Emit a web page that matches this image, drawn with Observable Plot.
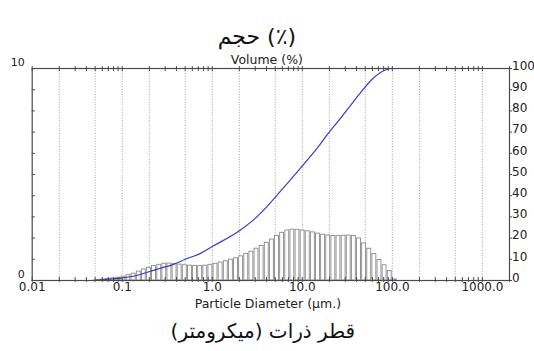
<!DOCTYPE html>
<html>
<head>
<meta charset="utf-8">
<script src="https://cdn.jsdelivr.net/npm/d3@7"></script>
<script src="https://cdn.jsdelivr.net/npm/@observablehq/plot@0.6"></script>
<style>
  html, body { margin: 0; padding: 0; background: #fff; }
</style>
</head>
<body>
<div id="chart"></div>
<script>
// ---- Texts ----
const titleFa = "حجم (٪)";
const yTitle = "Volume (%)";
const xTitle = "Particle Diameter (µm.)";
const xTitleFa = "قطر ذرات (میکرومتر)";

// ---- Axis ticks / labels ----
const xTickValues = [0.01, 0.1, 1, 10, 100, 1000];
const xTickLabels = ["0.01", "0.1", "1.0", "10.0", "100.0", "1000.0"];
const gridValues = [0.02, 0.05, 0.1, 0.2, 0.5, 1, 2, 5, 10, 20, 50, 100, 200, 500, 1000];
const leftTickValues = [0, 1, 2, 3, 4, 5, 6, 7, 8, 9, 10];
const leftLabelValues = [0, 10];
const rightLabelValues = [0, 10, 20, 30, 40, 50, 60, 70, 80, 90, 100];

// ---- Histogram bins (µm edges) and volume in each bin (%) ----
const binEdges = [0.0500, 0.0570, 0.0650, 0.0741, 0.0845, 0.0963, 0.110, 0.125, 0.143, 0.163,
  0.185, 0.211, 0.241, 0.275, 0.313, 0.357, 0.407, 0.464, 0.529, 0.603,
  0.687, 0.783, 0.893, 1.018, 1.160, 1.323, 1.508, 1.719, 1.959, 2.234,
  2.546, 2.903, 3.310, 3.773, 4.301, 4.903, 5.590, 6.372, 7.264, 8.281,
  9.440, 10.76, 12.27, 13.99, 15.94, 18.18, 20.72, 23.62, 26.93, 30.70,
  35.00, 39.89, 45.48, 51.85, 59.10, 67.38, 76.81, 87.56, 99.82, 113.8];
const binVolume = [0.02, 0.04, 0.07, 0.10, 0.13, 0.18, 0.25, 0.32, 0.42, 0.52,
  0.60, 0.68, 0.74, 0.79, 0.80, 0.78, 0.75, 0.72, 0.70, 0.69,
  0.68, 0.70, 0.74, 0.79, 0.85, 0.91, 0.98, 1.05, 1.14, 1.25,
  1.36, 1.50, 1.63, 1.78, 1.93, 2.10, 2.25, 2.36, 2.40, 2.39,
  2.36, 2.32, 2.27, 2.21, 2.16, 2.12, 2.10, 2.10, 2.11, 2.12,
  2.10, 1.98, 1.75, 1.50, 1.25, 0.97, 0.72, 0.45, 0.05];

// ---- Cumulative volume curve (µm, %) ----
const cumSize = [0.046, 0.057, 0.0955, 0.133, 0.19, 0.266, 0.371, 0.5, 0.74, 1.0,
  2.0, 3.0, 4.0, 5.7, 7.38, 9.53, 12.3, 15.9, 19.5, 26.5, 34.2, 44.2, 61.6, 83.6, 100, 2000];
const cumPercent = [0, 0.3, 1.1, 2.0, 3.9, 5.8, 7.6, 10.0, 12.8, 16.0,
  23.5, 29.3, 34.6, 42.0, 47.5, 53.0, 58.5, 64.5, 69.5, 76.5, 82.5, 88.5, 95.5, 99.3, 100, 100];

// ---- Build tables for the library ----
const bins = binVolume.map((v, i) => ({x1: binEdges[i], x2: binEdges[i + 1], v}));
const cum = cumSize.map((s, i) => ({s, p: cumPercent[i]}));
const minorTicks = [];
for (const dec of [0.01, 0.1, 1, 10, 100, 1000]) {
  for (let m = 1; m <= 9; m++) {
    const t = dec * m;
    if (t <= 2000) minorTicks.push(t);
  }
}

const W = 534, H = 351;
const xMin = 0.01, xMax = 2000;
const textFont = "DejaVu Sans, Verdana, sans-serif";
const axisColor = "#4a4a4a";

const chart = Plot.plot({
  width: W,
  height: H,
  marginLeft: 31.7,
  marginRight: 25,
  marginTop: 68,
  marginBottom: 71,
  style: {fontFamily: textFont, background: "#fff", color: "#222"},
  x: {type: "log", domain: [xMin, xMax], axis: null},
  y: {domain: [0, 10], axis: null},
  marks: [
    // dotted vertical grid
    Plot.ruleX(gridValues, {x: d => d, stroke: "#8a8a8a", strokeWidth: 0.8, strokeDasharray: "1,1.6"}),
    // histogram bars
    Plot.rectY(bins, {x1: "x1", x2: "x2", y: "v", fill: "white", stroke: "#8a8a8a", strokeWidth: 0.9, insetLeft: 0.6, insetRight: 0.6}),
    // cumulative curve (right scale 0-100 mapped onto 0-10)
    Plot.line(cum, {x: "s", y: d => d.p / 10, stroke: "#3a3ac8", strokeWidth: 1.2, curve: "monotone-x"}),
    // frame
    Plot.frame({stroke: axisColor, strokeWidth: 1.2}),
    // top & bottom log ticks
    Plot.ruleX(minorTicks, {x: d => d, y1: -0.09, y2: 0.14, stroke: axisColor, strokeWidth: 1}),
    Plot.ruleX(minorTicks, {x: d => d, y1: 9.86, y2: 10.09, stroke: axisColor, strokeWidth: 1}),
    // left ticks (inward)
    Plot.ruleY(leftTickValues, {y: d => d, x1: xMin, x2: xMin * Math.pow(10, 3.2 / 90), stroke: axisColor, strokeWidth: 1}),
    // right ticks (outward)
    Plot.ruleY(leftTickValues, {y: d => d, x1: xMax, x2: xMax * Math.pow(10, 3 / 90), stroke: axisColor, strokeWidth: 1}),
    // left labels
    Plot.text(leftLabelValues, {x: xMin, y: d => d, text: d => String(d), textAnchor: "end", dx: -7.5, dy: -6.5, fontSize: 11, fill: "#222"}),
    // right labels
    Plot.text(rightLabelValues, {x: xMax, y: d => d / 10, text: d => String(d), textAnchor: "start", dx: 2.5, dy: -2.5, fontSize: 12, fill: "#222"}),
    // bottom labels
    Plot.text(xTickValues, {x: d => d, y: 0, text: (d, i) => xTickLabels[i], dy: 7, lineAnchor: "middle", fontSize: 12, fill: "#222"}),
    // titles
    Plot.text([yTitle], {frameAnchor: "top", text: d => d, dx: -4, dy: -13, fontSize: 12.5, fill: "#222"}),
    Plot.text([xTitle], {frameAnchor: "bottom", text: d => d, dx: -3, dy: 27, fontSize: 12.5, fill: "#222"}),
    Plot.text([titleFa], {frameAnchor: "top", text: d => d, dx: -14, dy: -40, fontSize: 22, fill: "#111", fontFamily: "DejaVu Sans"}),
    Plot.text([xTitleFa], {frameAnchor: "bottom", text: d => d, dx: -8, dy: 57, fontSize: 20, fill: "#111", fontFamily: "DejaVu Sans"})
  ]
});
document.getElementById("chart").appendChild(chart);
</script>
</body>
</html>
